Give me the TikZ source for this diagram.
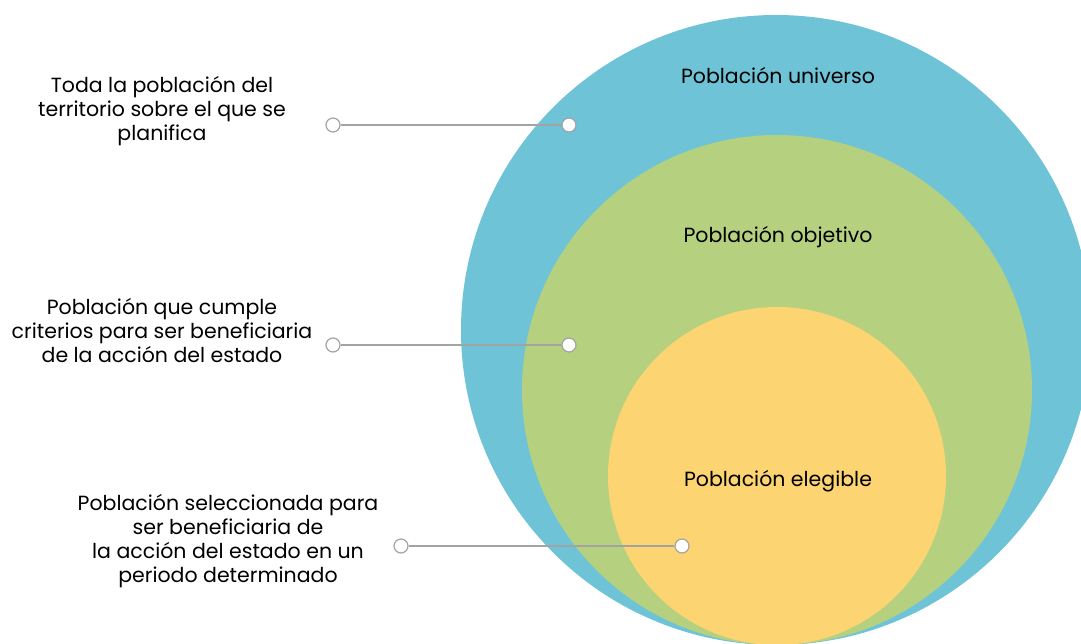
\documentclass[tikz,border=0pt]{standalone}
\usepackage{fontspec}
\setmainfont{Poppins}
\definecolor{azul}{HTML}{6EC4D6}
\definecolor{verde}{HTML}{B5D17F}
\definecolor{amarillo}{HTML}{FDD472}
\definecolor{linea}{HTML}{A3A3A3}
\begin{document}
\begin{tikzpicture}[x=1pt,y=-1pt,
        zona/.style={shape=circle, inner sep=0pt},
        punto/.style={shape=circle, draw=linea, line width=1.2pt, fill=white,
          minimum size=14pt, inner sep=0pt},
        nota/.style={align=center, font=\fontsize{20.5}{24}\selectfont},
        titulo/.style={font=\fontsize{20.5}{24}\selectfont}
        ]
    \clip (0,0) rectangle (1081,643);
    \node[zona, fill=azul, minimum size=630pt] (universo) at (776,330) {};
    \node[zona, fill=verde, minimum size=510pt] (objetivo) at (777,390) {};
    \node[zona, fill=amarillo, minimum size=338pt] (elegible) at (777,476) {};
    \node[titulo] (tuniverso) at (778,76) {Población universo};
    \node[titulo] (tobjetivo) at (778,237) {Población objetivo};
    \node[titulo] (telegible) at (778,481) {Población elegible};
    % textos
    \node[nota] (n1) at (162,111) {Toda la población del\\territorio sobre el que se\\planifica};
    \node[nota] (n2) at (162,330) {Población que cumple\\criterios para ser beneficiaria\\de la acción del estado};
    \node[nota] (n3) at (228,541) {Población seleccionada para\\ser beneficiaria de\\la acción del estado en un\\periodo determinado};
    % conectores
    \node[punto] (a1) at (333,125) {};
    \node[punto] (b1) at (569,125) {};
    \node[punto] (a2) at (333,345) {};
    \node[punto] (b2) at (569,345) {};
    \node[punto] (a3) at (401,546) {};
    \node[punto] (b3) at (682,546) {};
    \draw[linea, line width=1.5pt] (a1) -- (b1);
    \draw[linea, line width=1.5pt] (a2) -- (b2);
    \draw[linea, line width=1.5pt] (a3) -- (b3);
\end{tikzpicture}
\end{document}
